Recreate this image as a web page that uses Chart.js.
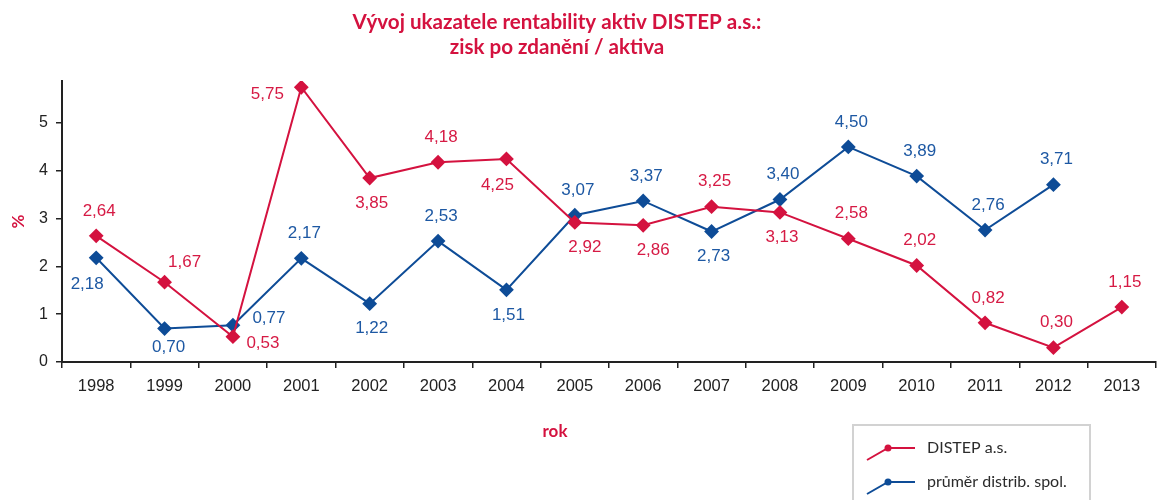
<!DOCTYPE html>
<html><head><meta charset="utf-8">
<script src="https://cdn.jsdelivr.net/npm/chart.js@4/dist/chart.umd.min.js"></script>
<style>html,body{margin:0;padding:0;background:#fff;}#wrap{position:relative;width:1164px;height:500px;}</style>
</head><body><div id="wrap"><canvas id="c" width="1164" height="500"></canvas></div>
<script>
const years = ['1998','1999','2000','2001','2002','2003','2004','2005','2006','2007','2008','2009','2010','2011','2012','2013'];
const distep = [2.64,1.67,0.53,5.75,3.85,4.18,4.25,2.92,2.86,3.25,3.13,2.58,2.02,0.82,0.30,1.15];
const prumer = [2.18,0.70,0.77,2.17,1.22,2.53,1.51,3.07,3.37,2.73,3.40,4.50,3.89,2.76,3.71,null];
const yTicks = [0,1,2,3,4,5];
const seriesNames = ['DISTEP a.s.','průměr distrib. spol.'];
const titleLines = ['Vývoj ukazatele rentability aktiv DISTEP a.s.:','zisk po zdanění / aktiva'];
const xTitle = 'rok';
const yTitle = '%';

const RED = '#d4123f', BLUE = '#0e4c97';
const RED_TXT = '#d61a44', BLUE_TXT = '#1d58a3';

// label placement per point (style only)
const placeRed  = ['t','tr','br','l','b','t','bl','bR','bR','t','b','t','t','t','t','t'];
const placeBlue = ['bl','b2','r','t','b','t','b','t','t','b','t','t','t','t','t',null];
const OFFS = {t:[3,-25], b:[2,25], b2:[4,19], l:[-34,7], r:[36,-7], tr:[20,-20], br:[30,7], bl:[-9,26], bR:[10,25]};

const fmt = v => v.toFixed(2).replace('.', ',');

const decorPlugin = {
  id: 'decor',
  afterDatasetsDraw(chart) {
    const ctx = chart.ctx;
    ctx.save();
    ctx.font = '17px "Liberation Sans", Arial, sans-serif';
    ctx.textAlign = 'center';
    ctx.textBaseline = 'middle';
    chart.data.datasets.forEach((ds, di) => {
      const meta = chart.getDatasetMeta(di);
      const place = di === 0 ? placeRed : placeBlue;
      ctx.fillStyle = di === 0 ? RED_TXT : BLUE_TXT;
      meta.data.forEach((el, i) => {
        const v = ds.data[i];
        if (v == null || !place[i]) return;
        const o = OFFS[place[i]];
        ctx.fillText(fmt(v), el.x + o[0], el.y + o[1]);
      });
    });
    ctx.restore();
  },
  afterDraw(chart) {
    const ctx = chart.ctx;
    ctx.save();
    ctx.fillStyle = RED;
    ctx.textAlign = 'center';
    ctx.textBaseline = 'middle';
    ctx.font = 'bold 20.6px Lato, "Open Sans", sans-serif';
    ctx.fillText(titleLines[0], 557, 22);
    ctx.fillText(titleLines[1], 557, 47);
    ctx.font = 'bold 17px Lato, "Open Sans", sans-serif';
    ctx.fillText(xTitle, 555, 432);
    ctx.strokeStyle = '#d2d2d2';
    ctx.lineWidth = 2;
    ctx.strokeRect(853, 425, 237, 100);
    const cols = [RED, BLUE];
    ctx.textAlign = 'left';
    ctx.font = '16px Lato, "Open Sans", sans-serif';
    seriesNames.forEach((n, k) => {
      const y = 448 + k * 34;
      ctx.strokeStyle = cols[k];
      ctx.lineWidth = 2;
      ctx.beginPath();
      ctx.moveTo(867, y + 12);
      ctx.lineTo(888, y);
      ctx.lineTo(915, y);
      ctx.stroke();
      ctx.fillStyle = cols[k];
      ctx.beginPath();
      ctx.arc(888, y, 3.5, 0, Math.PI * 2);
      ctx.fill();
      ctx.fillStyle = '#2b2b2b';
      ctx.fillText(n, 927, y);
    });
    ctx.restore();
  }
};

new Chart(document.getElementById('c'), {
  type: 'line',
  data: {
    labels: years,
    datasets: [
      { label: seriesNames[0], data: distep, borderColor: RED, backgroundColor: RED, borderWidth: 2,
        pointStyle: 'rectRot', pointRadius: 6, pointHoverRadius: 6, pointBackgroundColor: RED, pointBorderColor: RED, tension: 0 },
      { label: seriesNames[1], data: prumer, borderColor: BLUE, backgroundColor: BLUE, borderWidth: 2,
        pointStyle: 'rectRot', pointRadius: 6, pointHoverRadius: 6, pointBackgroundColor: BLUE, pointBorderColor: BLUE, tension: 0 }
    ]
  },
  options: {
    responsive: false,
    animation: false,
    devicePixelRatio: 1,
    layout: { padding: { top: 81, right: 2, left: 0, bottom: 0 } },
    plugins: { legend: { display: false }, title: { display: false }, tooltip: { enabled: false } },
    scales: {
      x: {
        type: 'category', offset: true,
        grid: { display: true, drawOnChartArea: false, offset: true, tickLength: 6, color: '#222', lineWidth: 1.5 },
        border: { display: true, color: '#222', width: 2 },
        ticks: { color: '#222', font: { family: '"Liberation Sans", Arial, sans-serif', size: 16.5 }, padding: 9, maxRotation: 0, autoSkip: false },
        afterFit(s) { s.height = 138; }
      },
      y: {
        min: 0, max: 5.88,
        grid: { display: true, drawOnChartArea: false, tickLength: 6, color: '#222', lineWidth: 1.5 },
        border: { display: true, color: '#222', width: 2 },
        ticks: { stepSize: 1, color: '#222', font: { family: '"Liberation Sans", Arial, sans-serif', size: 16 }, padding: 8,
                 callback: v => String(v) },
        afterBuildTicks(s) { s.ticks = yTicks.map(v => ({ value: v })); },
        title: { display: true, text: yTitle, color: RED, font: { family: 'Lato, sans-serif', size: 17, weight: 'bold' }, padding: { top: 8, bottom: 0 } },
        afterFit(s) { s.width = 62; }
      }
    }
  },
  plugins: [decorPlugin]
});
</script>
</body></html>
